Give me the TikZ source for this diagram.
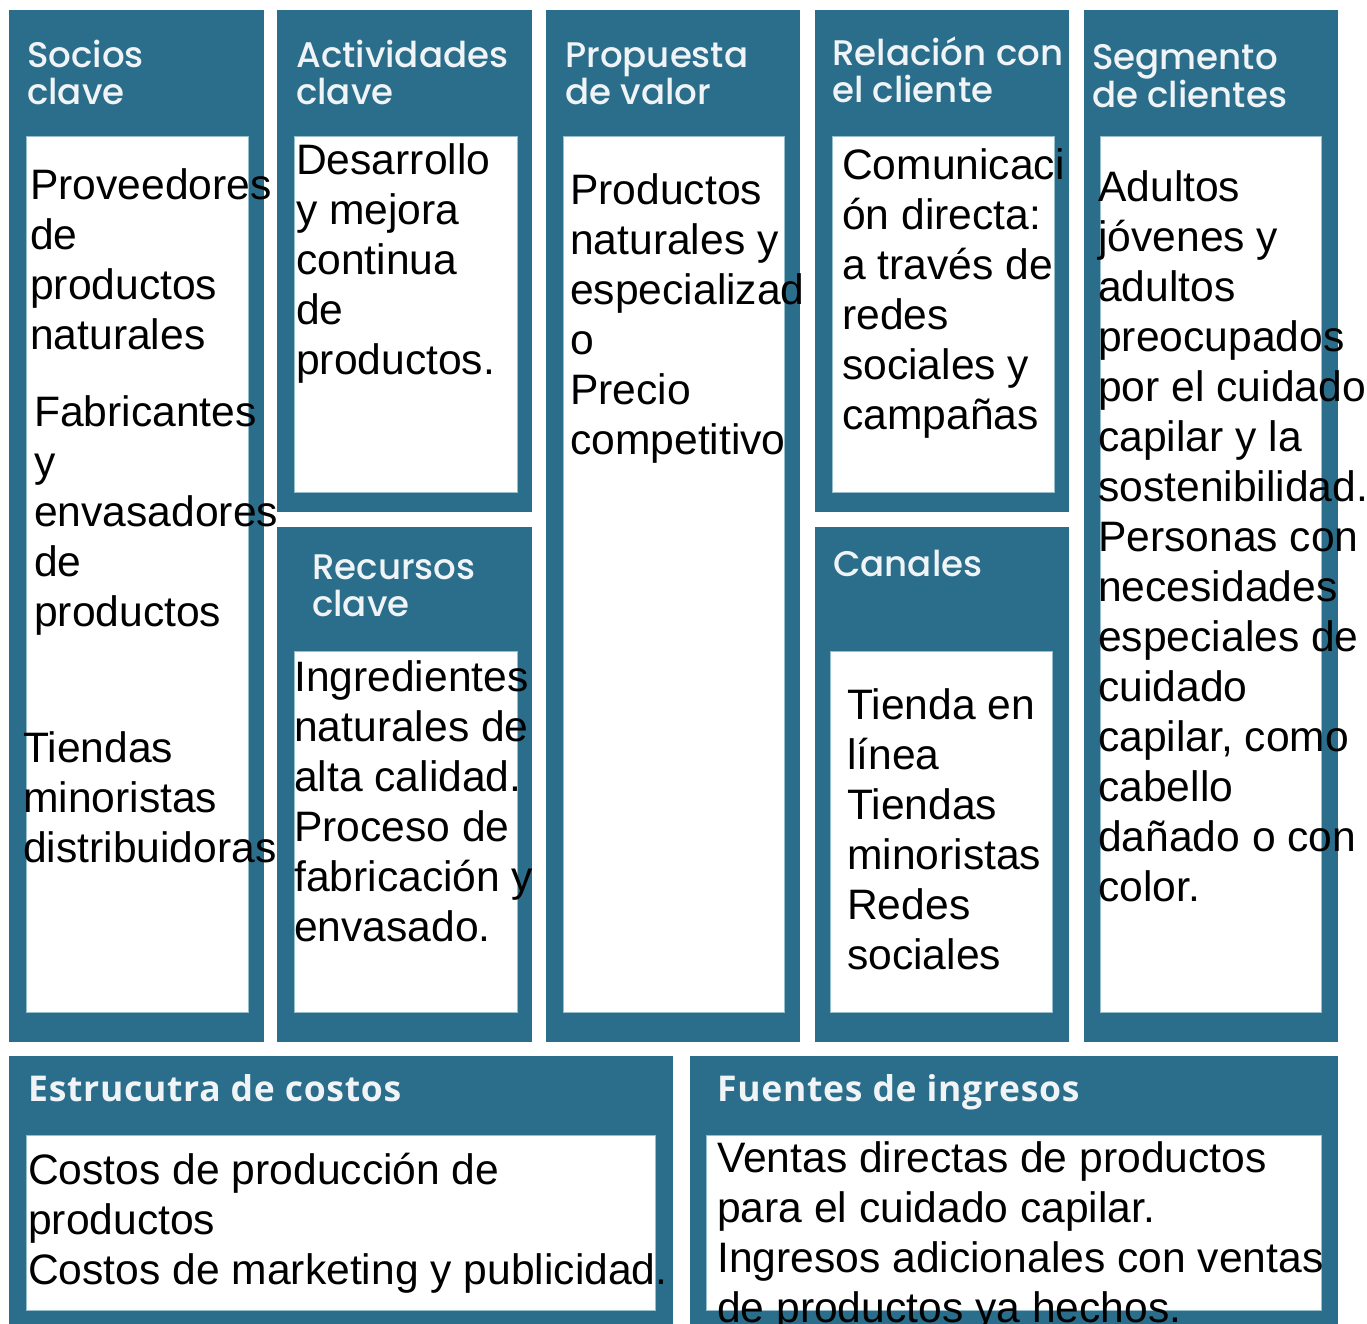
\documentclass[tikz,border=0pt]{standalone}
\usepackage{fontspec}
\setmainfont{Liberation Sans}
\newfontfamily\headfont{Poppins}[UprightFont={* Medium}]
\newfontfamily\footfont{Open Sans}[LetterSpace=2]
\usetikzlibrary{positioning}
\definecolor{bmcteal}{RGB}{42,110,139}
\definecolor{bmchead}{RGB}{240,244,246}
\definecolor{bmcedge}{RGB}{150,190,205}
\newcommand{\bmclead}{\rule{0pt}{32pt}}
\newcommand{\bmchlead}{\rule{0pt}{27pt}}
\tikzstyle{block} = [rectangle, fill=bmcteal, inner sep=0pt, anchor=north west]
\tikzstyle{card} = [rectangle, fill=white, draw=bmcedge, line width=0.8pt, inner sep=0pt, anchor=north west]
\tikzstyle{body} = [inner sep=0pt, anchor=north west, align=left, font=\fontsize{42.6}{50}\selectfont]
\tikzstyle{head} = [inner sep=0pt, anchor=north west, align=left, text=bmchead, font=\headfont\fontsize{35.6}{37}\selectfont]
\tikzstyle{foot} = [head, font=\footfont\bfseries\fontsize{35.5}{37}\selectfont]
\begin{document}
\begin{tikzpicture}[x=1pt, y=-1pt]
\useasboundingbox (0,0) rectangle (1367,1324);
% Blocks
\node (socios) [block, minimum width=255pt, minimum height=1032pt] at (9,10) {};
\node (actividades) [block, minimum width=255pt, minimum height=502pt] at (277,10) {};
\node (recursos) [block, minimum width=255pt, minimum height=515pt] at (277,527) {};
\node (propuesta) [block, minimum width=254pt, minimum height=1032pt] at (546,10) {};
\node (relacion) [block, minimum width=254pt, minimum height=502pt] at (815,10) {};
\node (canales) [block, minimum width=254pt, minimum height=515pt] at (815,527) {};
\node (segmento) [block, minimum width=254pt, minimum height=1032pt] at (1084,10) {};
\node (costos) [block, minimum width=664pt, minimum height=290pt] at (9,1056) {};
\node (ingresos) [block, minimum width=648pt, minimum height=290pt] at (690,1056) {};

% White cards
\node (socios-in) [card, minimum width=222pt, minimum height=876pt] at (26,136) {};
\node (actividades-in) [card, minimum width=223pt, minimum height=356pt] at (294,136) {};
\node (recursos-in) [card, minimum width=223pt, minimum height=361pt] at (294,651) {};
\node (propuesta-in) [card, minimum width=221pt, minimum height=876pt] at (563,136) {};
\node (relacion-in) [card, minimum width=222pt, minimum height=356pt] at (832,136) {};
\node (canales-in) [card, minimum width=222pt, minimum height=361pt] at (830,651) {};
\node (segmento-in) [card, minimum width=221pt, minimum height=876pt] at (1100,136) {};
\node (costos-in) [card, minimum width=629pt, minimum height=175pt] at (26,1135) {};
\node (ingresos-in) [card, minimum width=615pt, minimum height=175pt] at (706,1135) {};

% Headings
\node (socios-t) [head] at (27,40) {\bmchlead Socios\\clave};
\node (actividades-t) [head] at (296,40) {\bmchlead Actividades\\clave};
\node (propuesta-t) [head] at (565,40) {\bmchlead Propuesta\\de valor};
\node (relacion-t) [head] at (832,37) {\bmchlead Relación con\\el cliente};
\node (segmento-t) [head] at (1092,42) {\bmchlead Segmento\\de clientes};
\node (recursos-t) [head] at (312,552) {\bmchlead Recursos\\clave};
\node (canales-t) [head] at (833,549) {\bmchlead Canales};
\node (costos-t) [foot] at (28,1074) {\bmchlead Estrucutra de costos};
\node (ingresos-t) [foot] at (717,1074) {\bmchlead Fuentes de ingresos};

% Contents
\node (socios-a) [body] at (30,167) {\bmclead Proveedores\\de\\productos\\naturales};
\node (socios-b) [body] at (34,394) {\bmclead Fabricantes\\y\\envasadores\\de\\productos};
\node (socios-c) [body] at (23,730) {\bmclead Tiendas\\minoristas\\distribuidoras};
\node (actividades-a) [body] at (296,142) {\bmclead Desarrollo\\y mejora\\continua\\de\\productos.};
\node (recursos-a) [body] at (294,659) {\bmclead Ingredientes\\naturales de\\alta calidad.\\Proceso de\\fabricación y\\envasado.};
\node (propuesta-a) [body] at (570,172) {\bmclead Productos\\naturales y\\especializad\\o\\Precio\\competitivo};
\node (relacion-a) [body] at (842,147) {\bmclead Comunicaci\\ón directa:\\a través de\\redes\\sociales y\\campañas};
\node (canales-a) [body] at (847,687) {\bmclead Tienda en\\línea\\Tiendas\\minoristas\\Redes\\sociales};
\node (segmento-a) [body] at (1098,169) {\bmclead Adultos\\jóvenes y\\adultos\\preocupados\\por el cuidado\\capilar y la\\sostenibilidad.\\Personas con\\necesidades\\especiales de\\cuidado\\capilar, como\\cabello\\dañado o con\\color.};
\node (costos-a) [body] at (28,1152) {\bmclead Costos de producción de\\productos\\Costos de marketing y publicidad.};
\node (ingresos-a) [body] at (717,1140) {\bmclead Ventas directas de productos\\para el cuidado capilar.\\Ingresos adicionales con ventas\\de productos ya hechos.};
\end{tikzpicture}
\end{document}
